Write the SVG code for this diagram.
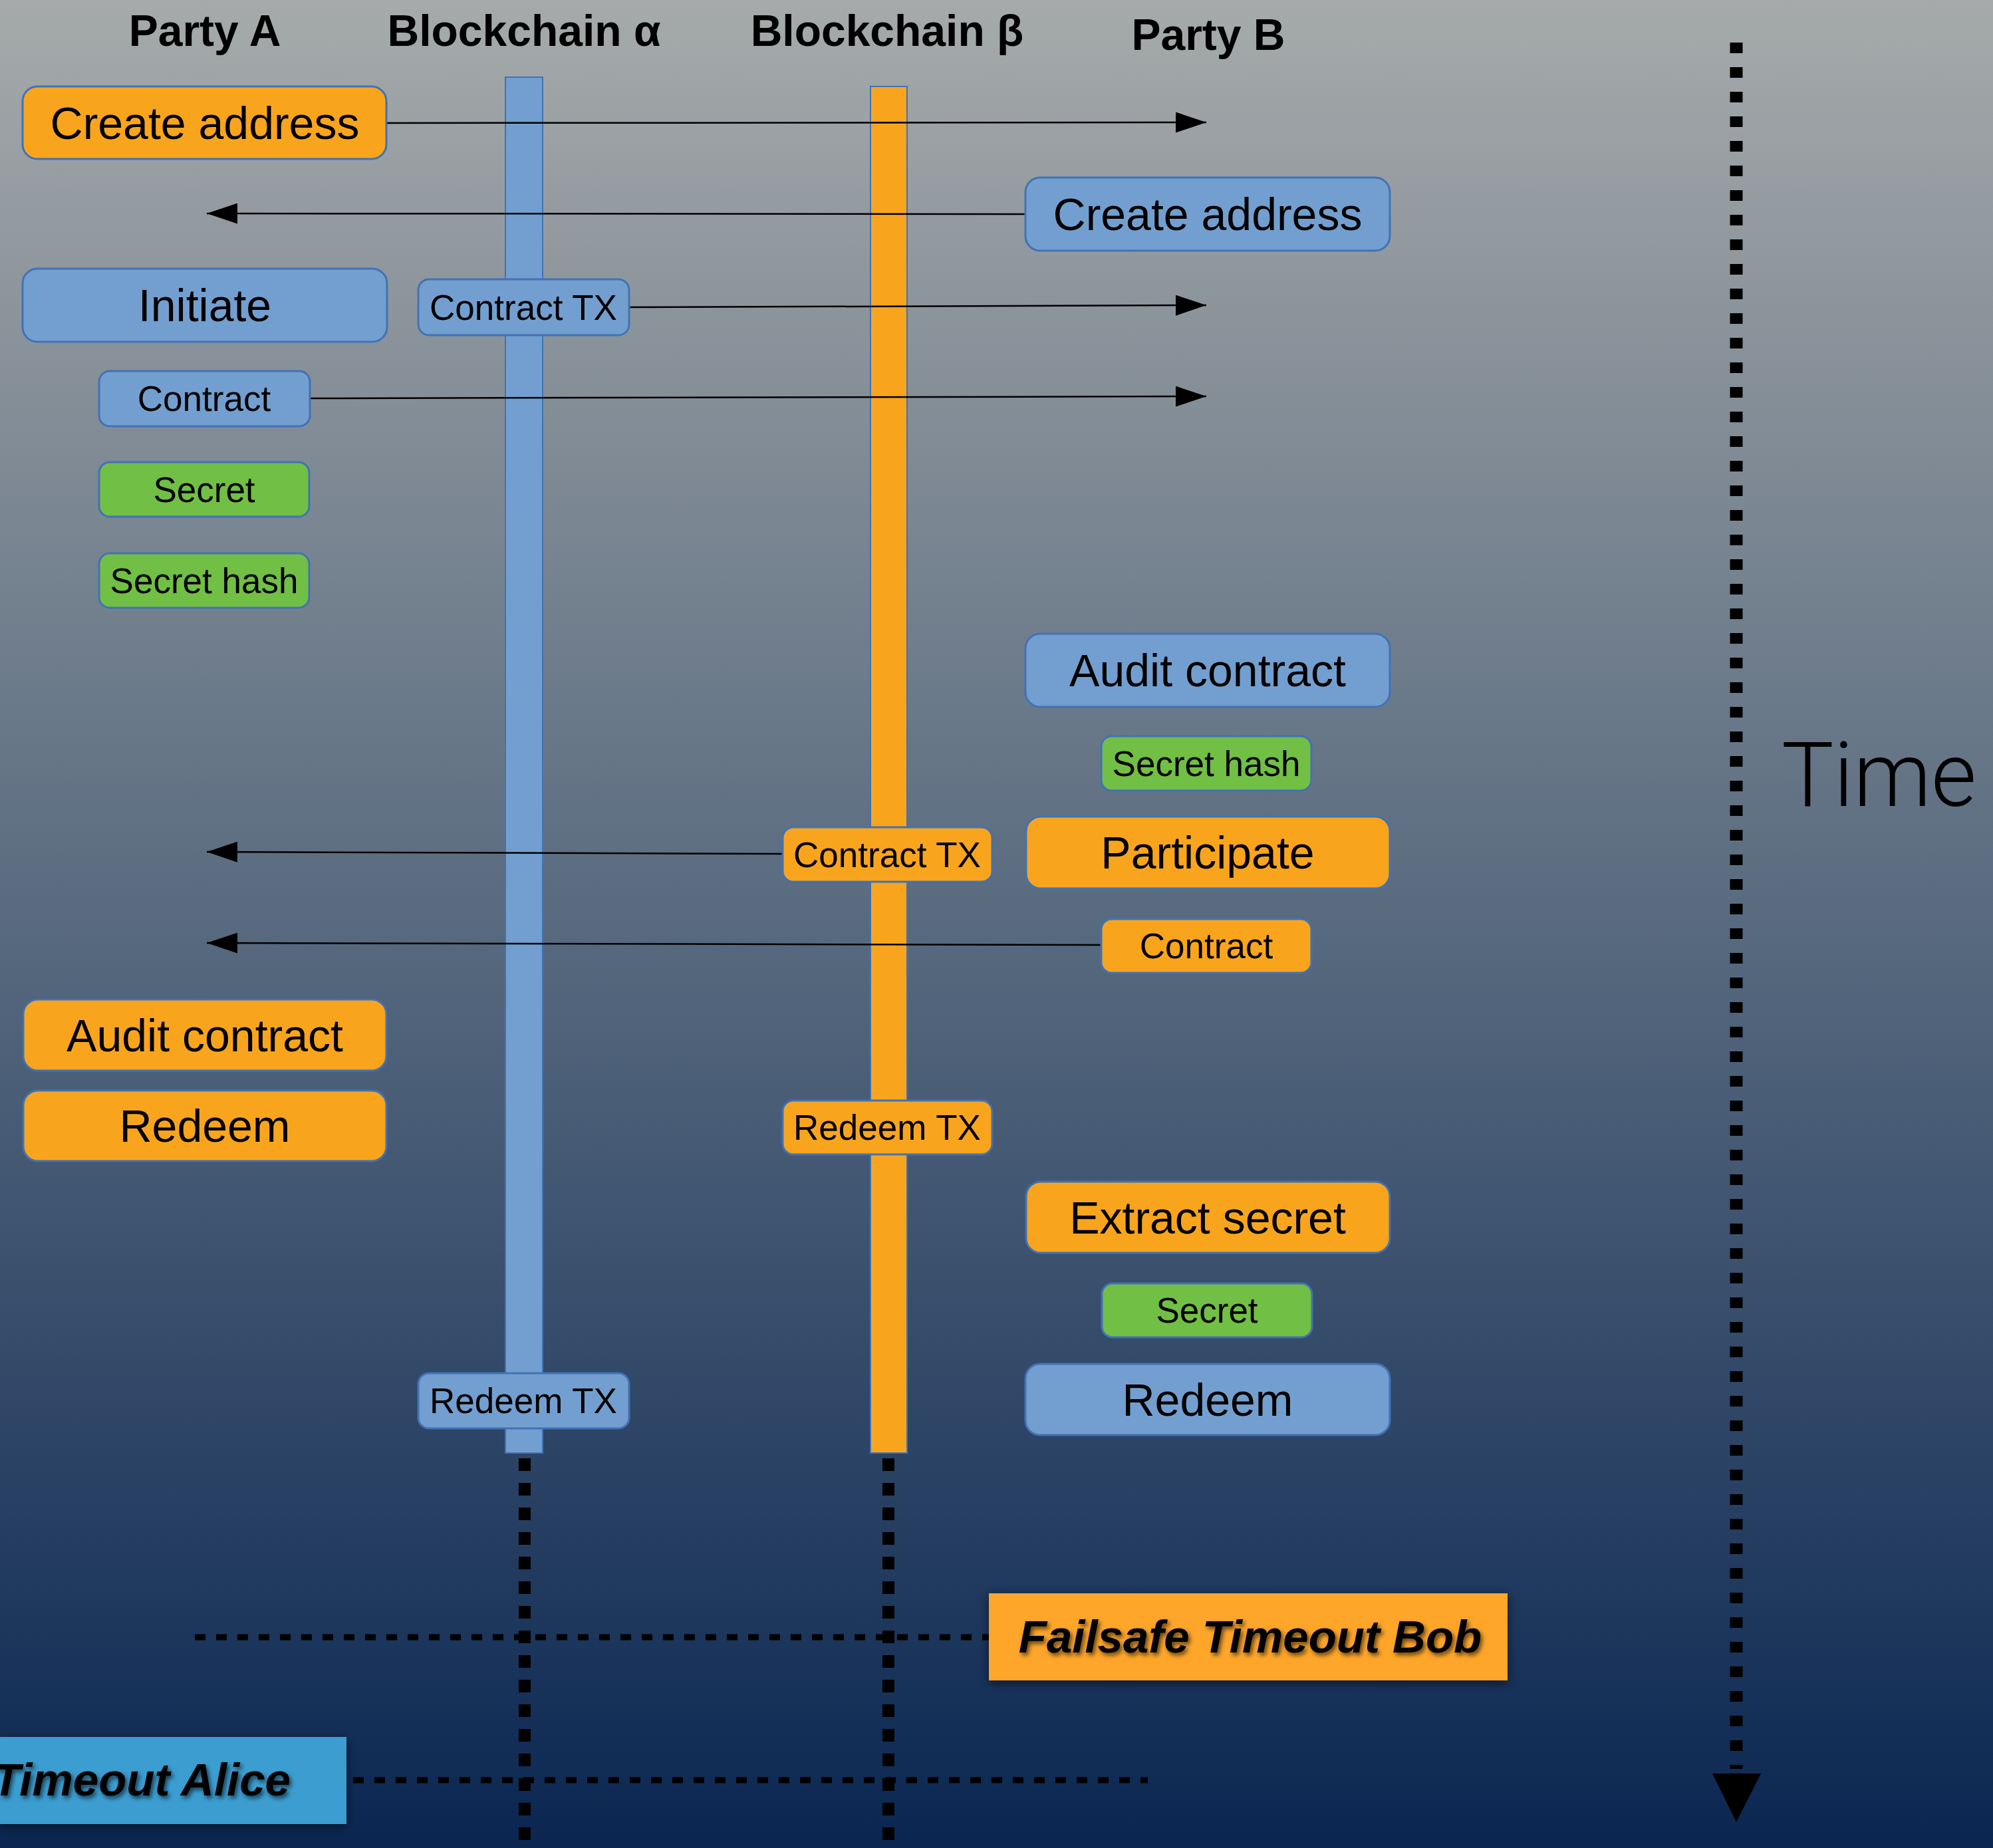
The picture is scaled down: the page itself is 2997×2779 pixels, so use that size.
<svg xmlns="http://www.w3.org/2000/svg" width="2997" height="2779" viewBox="0 0 2997 2779">
<defs>
<linearGradient id="bg" x1="0" y1="0" x2="0" y2="1">
<stop offset="0" stop-color="#a6aaaa"/>
<stop offset="0.5" stop-color="#586a7f"/>
<stop offset="1" stop-color="#0a2651"/>
</linearGradient>
<marker id="arr" markerUnits="userSpaceOnUse" markerWidth="46" markerHeight="31" refX="46" refY="15.5" orient="auto">
<path d="M0,0 L46,15.5 L0,31 z" fill="#000"/>
</marker>
<filter id="shadow" x="-10%" y="-20%" width="120%" height="150%">
<feDropShadow dx="0" dy="4" stdDeviation="8" flood-color="#000" flood-opacity="0.55"/>
</filter>
<filter id="tshadow" x="-5%" y="-20%" width="110%" height="150%">
<feDropShadow dx="3" dy="4" stdDeviation="3" flood-color="#000" flood-opacity="0.6"/>
</filter>
</defs>
<style>
.hdr{font-family:"Liberation Sans",Arial,sans-serif;font-weight:bold;font-size:66px;fill:#000;text-anchor:middle}
.big{font-family:"Liberation Sans",Arial,sans-serif;font-size:68px;fill:#000;text-anchor:middle}
.sm{font-family:"Liberation Sans",Arial,sans-serif;font-size:53px;fill:#000;text-anchor:middle}
.box{stroke:#4272b5;stroke-width:3}
.or{fill:#f8a51d}
.bl{fill:#729fcf}
.gr{fill:#71bf44}
.conn{stroke:#000;stroke-width:2.5;fill:none;marker-end:url(#arr)}
.dotv{stroke:#000;stroke-width:18;stroke-dasharray:19 18;fill:none}
.doth{stroke:#000;stroke-width:9;stroke-dasharray:16 16;fill:none}
.tmo{font-family:"Liberation Sans",Arial,sans-serif;font-weight:bold;font-style:italic;font-size:69px;fill:#000}
</style>
<rect x="0" y="0" width="2997" height="2779" fill="url(#bg)"/>

<g id="headers">
<text class="hdr" x="308" y="69">Party A</text>
<text class="hdr" x="788" y="69">Blockchain α</text>
<text class="hdr" x="1334" y="69">Blockchain β</text>
<text class="hdr" x="1817" y="75">Party B</text>
</g>

<g id="lifelines">
<rect id="lifeline-alpha" x="760" y="116" width="56" height="2069" fill="#729fcf" stroke="#4272b5" stroke-width="2"/>
<rect id="lifeline-beta" x="1309" y="130" width="55" height="2055" fill="#f8a51d" stroke="#4272b5" stroke-width="2"/>
<path class="dotv" d="M789,2193 L789,2779"/>
<path class="dotv" d="M1336,2193 L1336,2779"/>
</g>

<g id="time-axis">
<path d="M2611,64 L2611,2660" stroke="#000" stroke-width="19" stroke-dasharray="16 21" fill="none"/>
<polygon points="2575,2667 2648,2667 2611,2740" fill="#000"/>
<text x="2679" y="1212" font-family="Roboto,'Liberation Sans',sans-serif" font-weight="300" font-size="135" textLength="293" lengthAdjust="spacingAndGlyphs" fill="#000">Time</text>
</g>

<g id="timeout-lines">
<path class="doth" d="M293,2462 L1487,2462"/>
<path class="doth" d="M531,2677 L1726,2677"/>
</g>

<g id="connectors">
<path class="conn" d="M581,185 L1814,184"/>
<path class="conn" d="M1542,322 L311,321"/>
<path class="conn" d="M946,462 L1814,459"/>
<path class="conn" d="M466,599 L1814,596"/>
<path class="conn" d="M1177,1284 L311,1281"/>
<path class="conn" d="M1656,1421 L311,1418"/>
</g>

<g id="a-create-address"><rect class="box or" x="34" y="130" width="547" height="109" rx="22"/><text class="big" x="308" y="209">Create address</text></g>
<g id="b-create-address"><rect class="box bl" x="1542" y="267" width="548" height="110" rx="22"/><text class="big" x="1816" y="346">Create address</text></g>
<g id="a-initiate"><rect class="box bl" x="34" y="404" width="548" height="110" rx="22"/><text class="big" x="308" y="483">Initiate</text></g>
<g id="alpha-contract-tx"><rect class="box bl" x="629" y="420" width="317" height="84" rx="16"/><text class="sm" x="787" y="481">Contract TX</text></g>
<g id="a-contract"><rect class="box bl" x="149" y="558" width="317" height="83" rx="16"/><text class="sm" x="307" y="618">Contract</text></g>
<g id="a-secret"><rect class="box gr" x="149" y="695" width="316" height="82" rx="16"/><text class="sm" x="307" y="755">Secret</text></g>
<g id="a-secret-hash"><rect class="box gr" x="149" y="832" width="316" height="82" rx="16"/><text class="sm" x="307" y="892">Secret hash</text></g>
<g id="b-audit-contract"><rect class="box bl" x="1542" y="953" width="548" height="110" rx="22"/><text class="big" x="1816" y="1032">Audit contract</text></g>
<g id="b-secret-hash"><rect class="box gr" x="1656" y="1107" width="316" height="82" rx="16"/><text class="sm" x="1814" y="1167">Secret hash</text></g>
<g id="beta-contract-tx"><rect class="box or" x="1177" y="1244" width="315" height="82" rx="16"/><text class="sm" x="1334" y="1304">Contract TX</text></g>
<g id="b-participate"><rect class="box or" x="1543" y="1228" width="547" height="108" rx="22"/><text class="big" x="1816" y="1306">Participate</text></g>
<g id="b-contract"><rect class="box or" x="1656" y="1382" width="316" height="81" rx="16"/><text class="sm" x="1814" y="1441">Contract</text></g>
<g id="a-audit-contract"><rect class="box or" x="35" y="1503" width="546" height="107" rx="22"/><text class="big" x="308" y="1581">Audit contract</text></g>
<g id="a-redeem"><rect class="box or" x="35" y="1640" width="546" height="106" rx="22"/><text class="big" x="308" y="1717">Redeem</text></g>
<g id="beta-redeem-tx"><rect class="box or" x="1177" y="1655" width="315" height="81" rx="16"/><text class="sm" x="1334" y="1714">Redeem TX</text></g>
<g id="b-extract-secret"><rect class="box or" x="1543" y="1777" width="547" height="107" rx="22"/><text class="big" x="1816" y="1855">Extract secret</text></g>
<g id="b-secret"><rect class="box gr" x="1657" y="1930" width="316" height="81" rx="16"/><text class="sm" x="1815" y="1989">Secret</text></g>
<g id="b-redeem"><rect class="box bl" x="1542" y="2051" width="548" height="107" rx="22"/><text class="big" x="1816" y="2129">Redeem</text></g>
<g id="alpha-redeem-tx"><rect class="box bl" x="629" y="2065" width="317" height="83" rx="16"/><text class="sm" x="787" y="2125">Redeem TX</text></g>

<g id="failsafe-timeout-bob">
<rect x="1487" y="2396" width="780" height="131" fill="#fea62b" filter="url(#shadow)"/>
<text class="tmo" x="1880" y="2485" text-anchor="middle" filter="url(#tshadow)">Failsafe Timeout Bob</text>
</g>
<g id="timeout-alice">
<rect x="0" y="2612" width="521" height="131" fill="#3a9dd0" filter="url(#shadow)"/>
<text class="tmo" x="437" y="2700" text-anchor="end" filter="url(#tshadow)">Timeout Alice</text>
</g>
</svg>
